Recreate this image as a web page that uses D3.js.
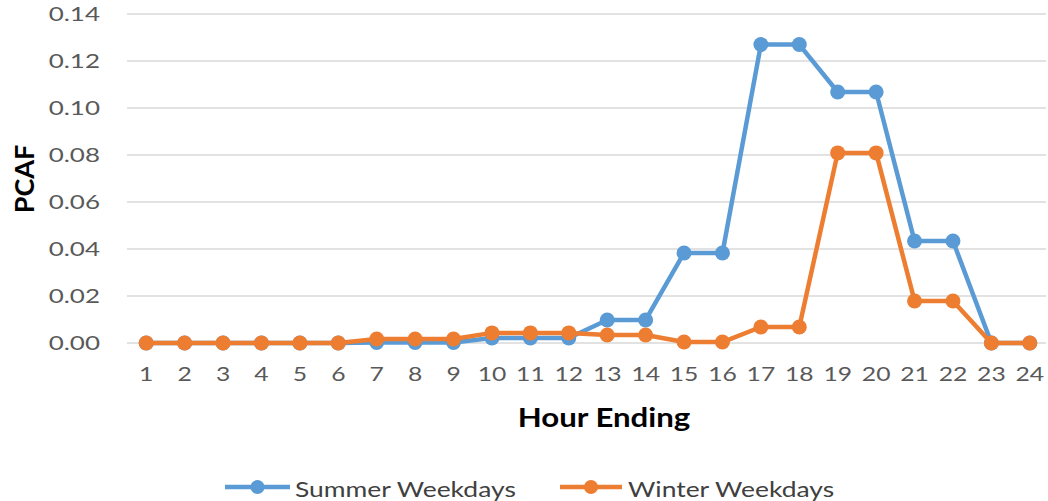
<!DOCTYPE html>
<html><head><meta charset="utf-8">
<script src="https://cdn.jsdelivr.net/npm/d3@7"></script>
<style>body{margin:0;background:#fff;}svg{display:block;}</style>
</head><body>
<svg id="c" width="1048" height="501"></svg>
<script>
const hours = ["1","2","3","4","5","6","7","8","9","10","11","12","13","14","15","16","17","18","19","20","21","22","23","24"];
const summer = [0,0,0,0,0,0,0.0002,0.0002,0.0002,0.0021,0.0021,0.0021,0.0098,0.0098,0.0383,0.0383,0.127,0.127,0.1068,0.1068,0.0434,0.0434,0,0];
const winter = [0,0,0,0,0,0,0.0017,0.0017,0.0017,0.0043,0.0043,0.0043,0.0034,0.0034,0.0004,0.0004,0.0068,0.0068,0.0809,0.0809,0.0179,0.0179,0,0];
const yTicks = [0,0.02,0.04,0.06,0.08,0.10,0.12,0.14];
const seriesNames = ["Summer Weekdays","Winter Weekdays"];
const colors = ["#5B9BD5","#ED7D31"];

const svg = d3.select("#c");
const font = "Lato, 'Open Sans', sans-serif";
const SX = 1.3;
const x = d3.scaleBand().domain(hours).range([127,1049]);
const y = d3.scaleLinear().domain([0,0.14]).range([343,14]);

// gridlines
svg.append("g").selectAll("line").data(yTicks).join("line")
  .attr("x1",127).attr("x2",1046).attr("y1",d=>y(d)).attr("y2",d=>y(d))
  .attr("stroke","#d9d9d9").attr("stroke-width",1.3);

// y axis
const ya = svg.append("g").attr("transform","translate(127,0)")
  .call(d3.axisLeft(y).tickValues(yTicks).tickFormat(d3.format(".2f")).tickSize(0).tickPadding(27));
ya.select(".domain").remove();
ya.selectAll("text").attr("font-family",font).attr("font-size",20).attr("fill","#595959")
  .attr("x",-27/SX).attr("transform",`scale(${SX},1)`);

// x axis
const xa = svg.append("g").attr("transform","translate(0,343)")
  .call(d3.axisBottom(x).tickSize(0).tickPadding(25));
xa.select(".domain").remove();
xa.selectAll("text").attr("font-family",font).attr("font-size",19).attr("fill","#595959")
  .attr("transform",`scale(${SX},1)`);

// axis titles
svg.append("text").attr("transform","translate(34,179) rotate(-90)")
  .attr("text-anchor","middle").attr("font-family",font).attr("font-weight","bold")
  .attr("font-size",27).attr("fill","#000").text("PCAF");
svg.append("g").attr("transform",`translate(604,427) scale(1.2,1)`)
  .append("text").attr("text-anchor","middle").attr("font-family",font).attr("font-weight","bold")
  .attr("font-size",26).attr("fill","#000").text("Hour Ending");

const line = d3.line().x((d,i)=>x(hours[i])+x.bandwidth()/2).y(d=>y(d));
[summer,winter].forEach((s,k)=>{
  const g = svg.append("g");
  g.append("path").datum(s).attr("d",line).attr("fill","none")
    .attr("stroke",colors[k]).attr("stroke-width",4.5).attr("stroke-linejoin","round");
  g.selectAll("circle").data(s).join("circle")
    .attr("cx",(d,i)=>x(hours[i])+x.bandwidth()/2).attr("cy",d=>y(d)).attr("r",7.5)
    .attr("fill",colors[k]);
});

// legend
const leg = [{x1:225,x2:290,tx:295},{x1:560,x2:622,tx:628}];
leg.forEach((L,k)=>{
  const ly = 487;
  svg.append("line").attr("x1",L.x1).attr("x2",L.x2).attr("y1",ly).attr("y2",ly)
    .attr("stroke",colors[k]).attr("stroke-width",4.5);
  svg.append("circle").attr("cx",(L.x1+L.x2)/2).attr("cy",ly).attr("r",7).attr("fill",colors[k]);
  svg.append("g").attr("transform",`translate(${L.tx},497) scale(1.26,1)`)
    .append("text").attr("font-family",font).attr("font-size",21).attr("fill","#404040").text(seriesNames[k]);
});
</script>
</body></html>
